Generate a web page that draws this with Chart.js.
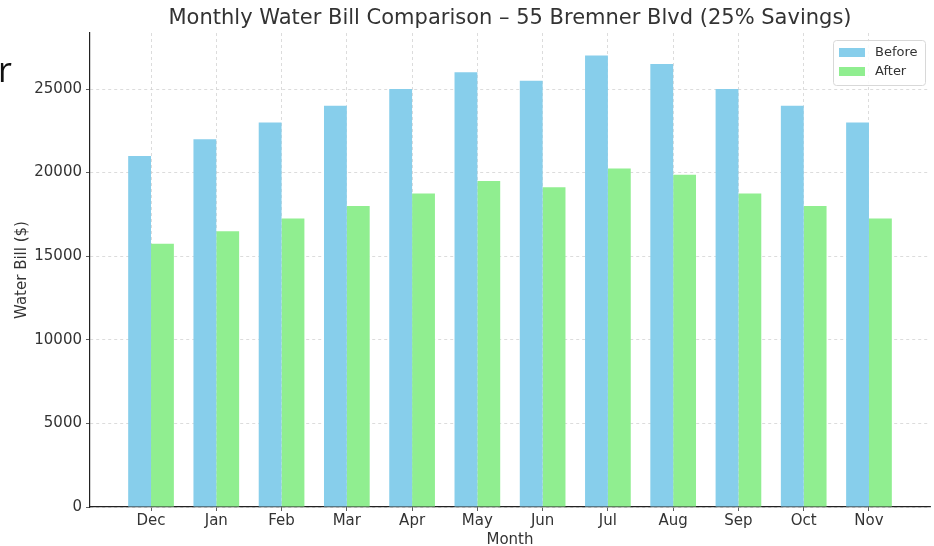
<!DOCTYPE html>
<html>
<head>
<meta charset="utf-8">
<script src="https://cdn.jsdelivr.net/npm/chart.js@4"></script>
<style>
  html, body { margin: 0; padding: 0; background: #fff; }
  #wrap { position: relative; width: 934px; height: 546px; }
  #stray { position: absolute; left: -2px; top: 46px; font: 34px "Open Sans", sans-serif; color: #111; }
</style>
</head>
<body>
<div id="wrap">
  <canvas id="myChart" width="934" height="546"></canvas>
  <div id="stray">r</div>
</div>
<script>
const months = ['Dec', 'Jan', 'Feb', 'Mar', 'Apr', 'May', 'Jun', 'Jul', 'Aug', 'Sep', 'Oct', 'Nov'];
const before = [21000, 22000, 23000, 24000, 25000, 26000, 25500, 27000, 26500, 25000, 24000, 23000];
const after = [15750, 16500, 17250, 18000, 18750, 19500, 19125, 20250, 19875, 18750, 18000, 17250];
const yTicks = [0, 5000, 10000, 15000, 20000, 25000];
const chartTitle = 'Monthly Water Bill Comparison \u2013 55 Bremner Blvd (25% Savings)';

const font = 'DejaVu Sans';
const textColor = '#333';

// title + framed legend inside the axes, drawn like matplotlib does
const overlay = {
    id: 'overlay',
    afterDraw(chart) {
        const ctx = chart.ctx;
        const area = chart.chartArea;
        ctx.save();
        ctx.fillStyle = textColor;
        ctx.font = '21px "' + font + '"';
        ctx.textAlign = 'center';
        ctx.textBaseline = 'middle';
        ctx.fillText(chartTitle, (area.left + area.right) / 2, 19);

        // legend box
        const bx = 833, by = 40, bw = 92, bh = 45;
        ctx.fillStyle = 'rgba(255,255,255,0.85)';
        ctx.strokeStyle = '#d8d8d8';
        ctx.lineWidth = 1;
        ctx.beginPath();
        ctx.roundRect(bx + 0.5, by + 0.5, bw, bh, 3);
        ctx.fill();
        ctx.stroke();
        ctx.font = '13px "' + font + '"';
        ctx.textAlign = 'left';
        chart.data.datasets.forEach((ds, i) => {
            const y = by + 12 + i * 19;
            ctx.fillStyle = ds.backgroundColor;
            ctx.fillRect(bx + 6, y - 4, 26, 9);
            ctx.fillStyle = textColor;
            ctx.fillText(ds.label, bx + 42, y + 1);
        });
        ctx.restore();
    }
};

const myChartRef = document.getElementById('myChart').getContext('2d');

new Chart(myChartRef, {
    type: 'bar',
    data: {
        datasets: [
            {
                label: 'Before',
                backgroundColor: '#87CEEB',
                data: before.map((v, i) => ({ x: i, y: v }))
            },
            {
                label: 'After',
                backgroundColor: '#90EE90',
                data: after.map((v, i) => ({ x: i, y: v }))
            }
        ]
    },
    options: {
        responsive: false,
        animation: false,
        events: [],
        categoryPercentage: 0.7,
        barPercentage: 1.0,
        layout: { padding: { top: 33, right: 4, left: 0, bottom: 0 } },
        plugins: {
            legend: { display: false },
            title: { display: false },
            tooltip: { enabled: false }
        },
        scales: {
            x: {
                type: 'linear',
                offset: false,
                min: -0.935,
                max: 11.935,
                afterBuildTicks: axis => { axis.ticks = months.map((m, i) => ({ value: i })); },
                afterFit: s => { s.height = 39; },
                ticks: {
                    color: textColor,
                    font: { family: font, size: 15 },
                    padding: 1,
                    maxRotation: 0,
                    callback: v => months[v]
                },
                grid: {
                    offset: false,
                    color: '#d4d4d4',
                    tickColor: '#333',
                    tickLength: 4,
                    lineWidth: 0.8
                },
                border: { display: true, color: '#222', width: 1.2, dash: [3, 3] },
                title: {
                    display: true,
                    text: 'Month',
                    color: textColor,
                    font: { family: font, size: 15 },
                    padding: { top: 0, bottom: -3 }
                }
            },
            y: {
                min: 0,
                max: 28350,
                afterBuildTicks: axis => { axis.ticks = yTicks.map(v => ({ value: v })); },
                afterFit: s => { s.width = 90; },
                ticks: {
                    color: textColor,
                    font: { family: font, size: 15 },
                    padding: 4,
                    callback: v => String(v)
                },
                grid: {
                    color: '#d4d4d4',
                    tickColor: '#333',
                    tickLength: 4,
                    lineWidth: 0.8
                },
                border: { display: true, color: '#222', width: 1.2, dash: [3, 3] },
                title: {
                    display: true,
                    text: 'Water Bill ($)',
                    color: textColor,
                    font: { family: font, size: 15 },
                    padding: { top: 13, bottom: 0 }
                }
            }
        }
    },
    plugins: [overlay]
});
</script>
</body>
</html>
